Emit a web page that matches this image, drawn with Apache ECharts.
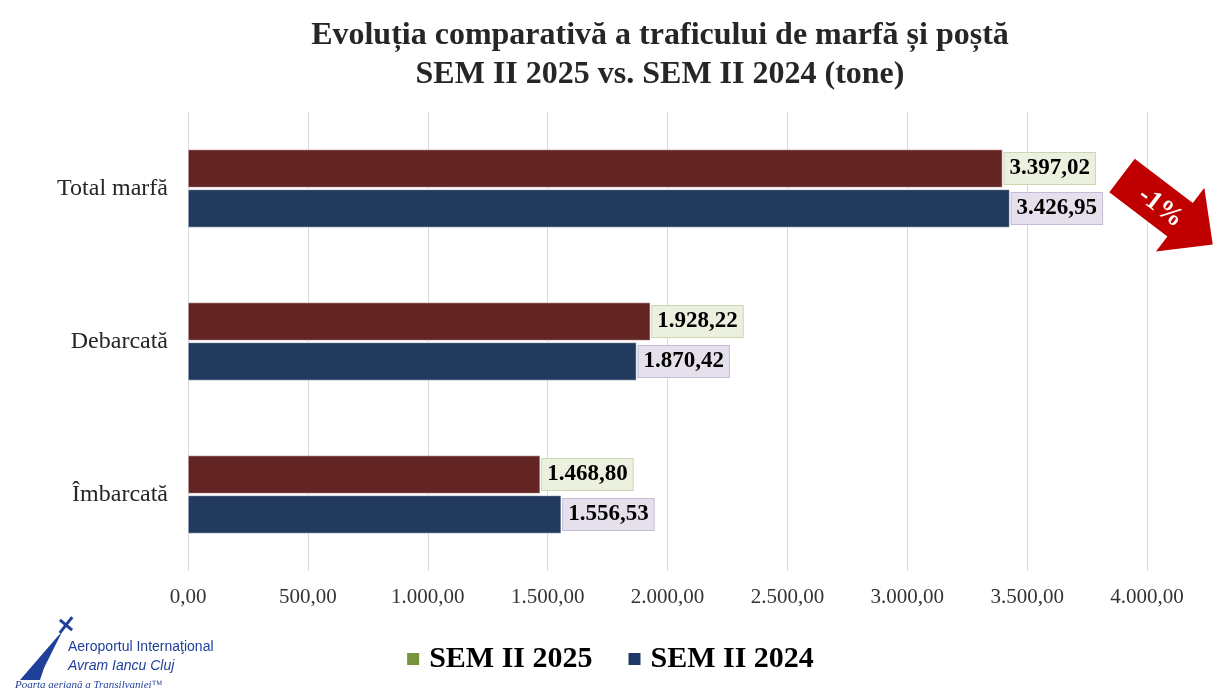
<!DOCTYPE html>
<html><head><meta charset="utf-8">
<script src="https://cdn.jsdelivr.net/npm/echarts@6/dist/echarts.min.js"></script>
<style>html,body{margin:0;padding:0;background:#fff}#c{width:1219px;height:695px}</style>
</head><body><div id="c"></div>
<script>
const categories = ['Total marfă', 'Debarcată', 'Îmbarcată'];
const sem2025 = [3397.02, 1928.22, 1468.80];
const sem2024 = [3426.95, 1870.42, 1556.53];
const seriesNames = ['SEM II 2025', 'SEM II 2024'];
const titleLines = ['Evoluția comparativă a traficului de marfă și poștă', 'SEM II 2025 vs. SEM II 2024 (tone)'];
const changeLabel = '-1%';

function fmt(v) {
  const parts = v.toFixed(2).split('.');
  parts[0] = parts[0].replace(/\B(?=(\d{3})+(?!\d))/g, '.');
  return parts[0] + ',' + parts[1];
}
const serif = '"Liberation Serif","Times New Roman",serif';
const chart = echarts.init(document.getElementById('c'));
chart.setOption({
  animation: false,
  title: {
    text: titleLines.join('\n'), left: 655, top: 11, textAlign: 'center',
    textStyle: { fontFamily: serif, fontWeight: 'bold', fontSize: 32, color: '#262626', lineHeight: 39 }
  },
  legend: {
    bottom: 16, left: 'center', itemWidth: 14, itemHeight: 14, itemGap: 34,
    textStyle: { fontFamily: serif, fontWeight: 'bold', fontSize: 30, color: '#000', padding: [0, 0, 0, 4] },
    data: [
      { name: seriesNames[0], icon: 'rect', itemStyle: { color: '#77933C' } },
      { name: seriesNames[1], icon: 'rect', itemStyle: { color: '#1F3864' } }
    ]
  },
  grid: { left: 188, right: 72, top: 112, bottom: 124 },
  xAxis: {
    type: 'value', min: 0, max: 4000, interval: 500,
    axisLine: { show: false }, axisTick: { show: false },
    splitLine: { lineStyle: { color: '#d9d9d9', width: 1 } },
    axisLabel: { formatter: v => fmt(v), fontFamily: serif, fontSize: 21, color: '#333', margin: 16 }
  },
  yAxis: {
    type: 'category', data: categories, inverse: true,
    axisLine: { show: false }, axisTick: { show: false },
    axisLabel: { fontFamily: serif, fontSize: 24, color: '#262626', margin: 20 }
  },
  series: [
    {
      name: seriesNames[0], type: 'bar', data: sem2025, barWidth: 38, barGap: '5%',
      itemStyle: { color: '#632523', borderColor: '#ffffff', borderWidth: 0.5 },
      label: {
        show: true, position: 'right', distance: 2, formatter: p => fmt(p.value),
        fontFamily: serif, fontWeight: 'bold', fontSize: 23, color: '#000',
        backgroundColor: '#EBF1DE', borderColor: '#C9D8B0', borderWidth: 1, padding: [5, 5, 3, 5]
      }
    },
    {
      name: seriesNames[1], type: 'bar', data: sem2024, barWidth: 38,
      itemStyle: { color: '#213A5E', borderColor: '#ffffff', borderWidth: 0.5 },
      label: {
        show: true, position: 'right', distance: 2, formatter: p => fmt(p.value),
        fontFamily: serif, fontWeight: 'bold', fontSize: 23, color: '#000',
        backgroundColor: '#E5E0EC', borderColor: '#C5BBD6', borderWidth: 1, padding: [5, 5, 3, 5]
      }
    }
  ],
  graphic: [
    {
      type: 'group', x: 1122, y: 175.5, rotation: -0.65, z: 100,
      children: [
        {
          type: 'polygon', z: 100,
          shape: { points: [[0, -21], [73, -21], [73, -40], [114, 0], [73, 40], [73, 21], [0, 21]] },
          style: { fill: '#C00000' }
        },
        {
          type: 'text', x: 50, y: 2, z: 101,
          style: { text: changeLabel, fill: '#fff', font: 'bold 27px ' + serif, textAlign: 'center', textVerticalAlign: 'middle' }
        }
      ]
    },
    {
      type: 'polygon',
      shape: { points: [[20, 680], [58, 636], [62, 632], [44, 668], [40, 680]] },
      style: { fill: '#1F3F99' }
    },
    {
      type: 'polygon', x: 66, y: 625, rotation: 0.9,
      shape: { points: [[-10, -1.5], [10, -1.5], [10, 1.5], [-10, 1.5]] },
      style: { fill: '#1F3F99' }
    },
    {
      type: 'polygon', x: 66, y: 625, rotation: -0.7,
      shape: { points: [[-8, -1.5], [8, -1.5], [8, 1.5], [-8, 1.5]] },
      style: { fill: '#1F3F99' }
    },
    {
      type: 'text', x: 68, y: 640,
      style: { text: 'Aeroportul Internaţional', fill: '#1F3F99', font: '14px "Liberation Sans", Arial, sans-serif' }
    },
    {
      type: 'text', x: 68, y: 659,
      style: { text: 'Avram Iancu Cluj', fill: '#1F3F99', font: 'italic 14px "Liberation Sans", Arial, sans-serif' }
    },
    {
      type: 'text', x: 15, y: 680,
      style: { text: 'Poarta aeriană a Transilvaniei™', fill: '#1F3F99', font: 'italic 11px ' + serif }
    }
  ]
});
</script>
</body></html>
